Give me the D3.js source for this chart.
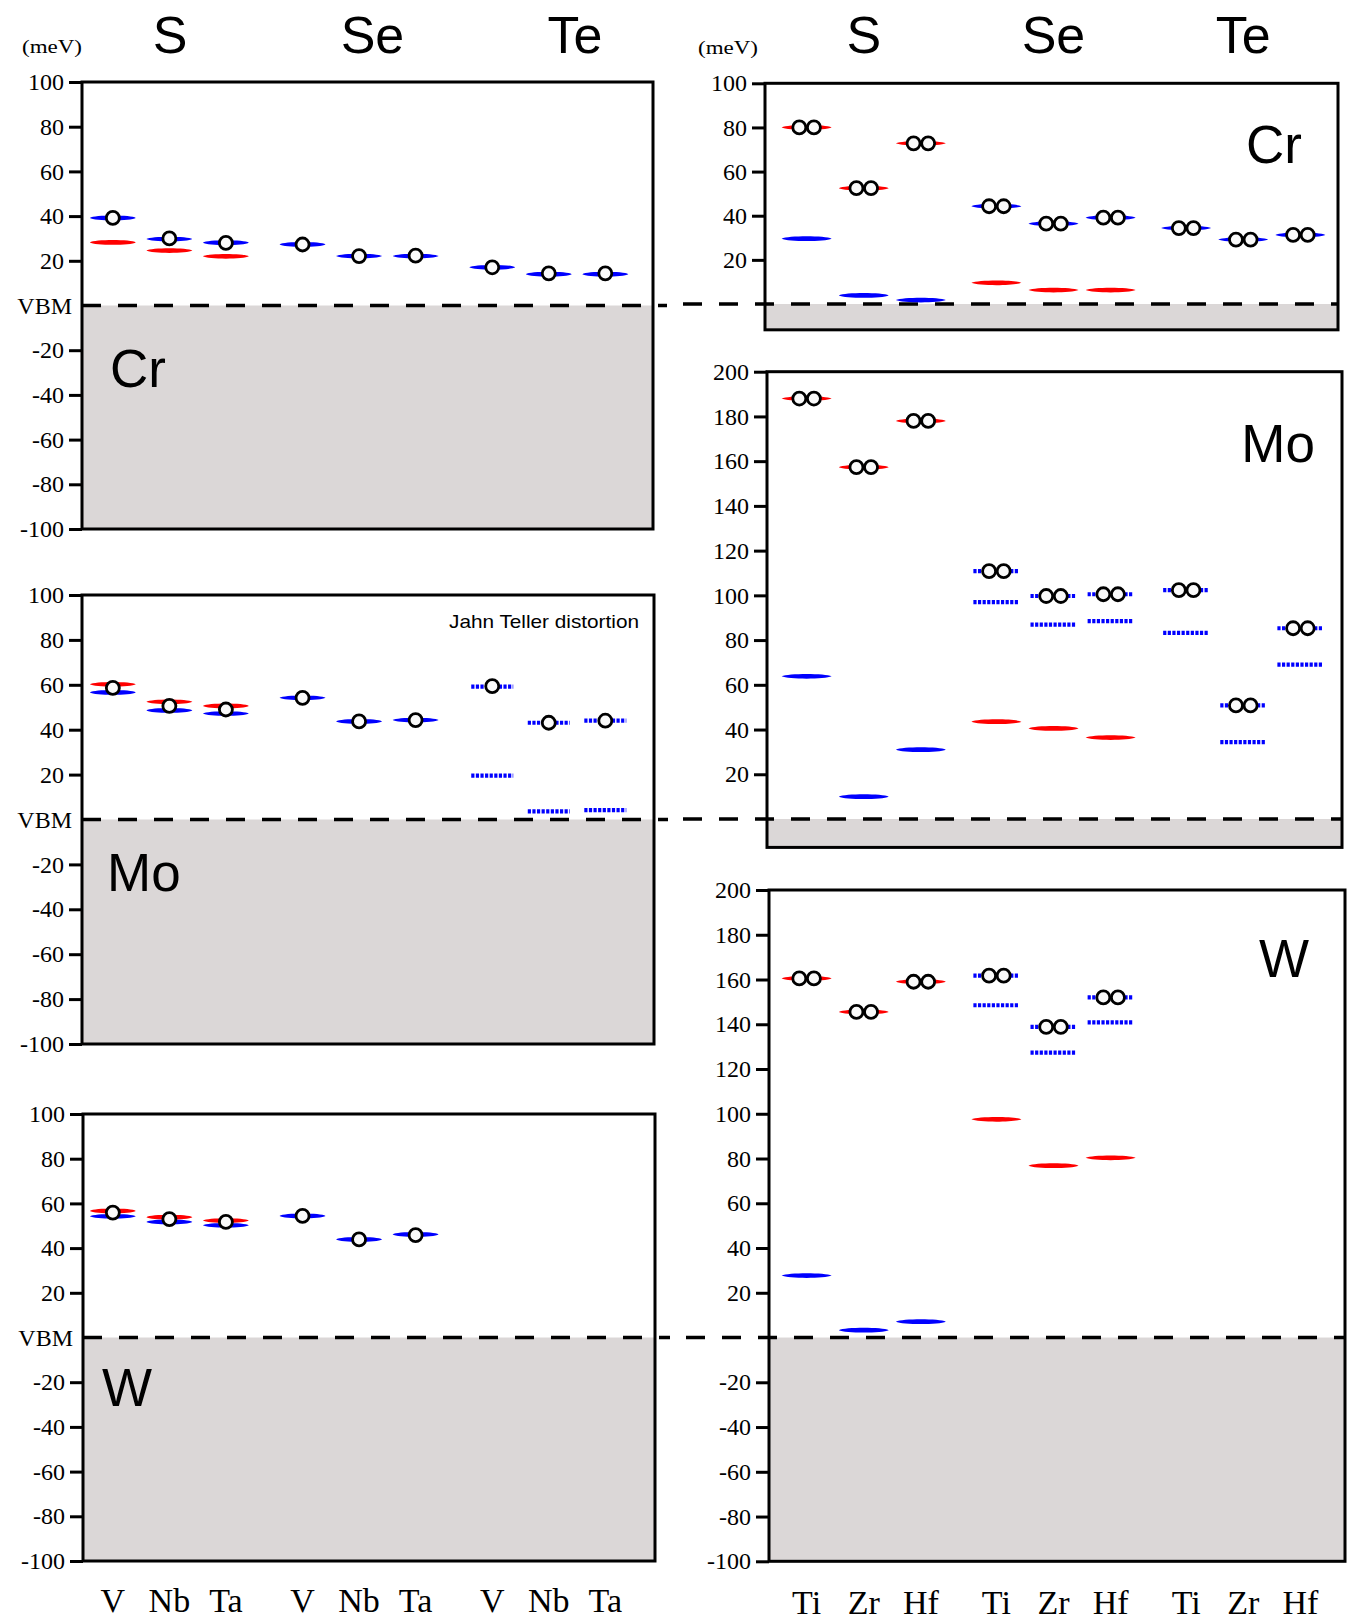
<!DOCTYPE html>
<html>
<head>
<meta charset="utf-8">
<script src="https://cdn.jsdelivr.net/npm/d3@7"></script>
<style>
  html, body { margin: 0; padding: 0; background: #ffffff; }
  svg { display: block; }
</style>
</head>
<body>
<svg id="chart" width="1348" height="1624"></svg>
<script>
// ---------------- DATA ----------------
const chalcogens = ["S", "Se", "Te"];
const leftMetals = ["V", "Nb", "Ta"];
const rightMetals = ["Ti", "Zr", "Hf"];

const leftTicks = [100, 80, 60, 40, 20, 0, -20, -40, -60, -80, -100];
const crRightTicks = [20, 40, 60, 80, 100];
const moRightTicks = [0, 20, 40, 60, 80, 100, 120, 140, 160, 180, 200];
const wRightTicks = [-100, -80, -60, -40, -20, 0, 20, 40, 60, 80, 100, 120, 140, 160, 180, 200];
const vbmLabel = "VBM";
const unitLabel = "(meV)";
const jtLabel = "Jahn Teller distortion";

// order: S-(V,Nb,Ta), Se-(V,Nb,Ta), Te-(V,Nb,Ta)
const crLeftRed      = [28.2, 24.6, 22.0, null, null, null, null, null, null];
const crLeftBlue     = [39.2, 29.7, 28.1, 27.3, 22.1, 22.1, 17.1, 14.0, 14.0];
const crLeftElectron = [39.2, 30.0, 28.0, 27.3, 22.1, 22.3, 17.1, 14.4, 14.4];

const moLeftRed      = [60.2, 52.4, 50.6, null, null, null, null, null, null];
const moLeftBlue     = [56.6, 48.6, 47.2, 54.2, 43.7, 44.3, null, null, null];
const moLeftJTUpper  = [null, null, null, null, null, null, 59.2, 43.1, 44.0];
const moLeftJTLower  = [null, null, null, null, null, null, 19.5, 3.6, 4.2];
const moLeftElectron = [58.6, 50.6, 49.0, 54.2, 43.7, 44.3, 59.4, 43.1, 44.0];

const wLeftRed       = [56.6, 53.8, 52.3, null, null, null, null, null, null];
const wLeftBlue      = [54.2, 51.7, 50.2, 54.4, 43.9, 46.1, null, null, null];
const wLeftElectron  = [55.9, 53.0, 51.7, 54.4, 43.9, 45.8, null, null, null];

// order: S-(Ti,Zr,Hf), Se-(Ti,Zr,Hf), Te-(Ti,Zr,Hf)
const crRightRed     = [80.0, 52.5, 72.8, 9.6, 6.3, 6.3, null, null, null];
const crRightBlue    = [29.6, 3.9, 1.8, 44.3, 36.4, 39.1, 34.4, 29.2, 31.3];
const crRightPair    = [80.0, 52.5, 72.8, 44.3, 36.4, 39.1, 34.4, 29.2, 31.3];

const moRightRed     = [188.0, 157.3, 178.0, 43.5, 40.5, 36.4, null, null, null];
const moRightBlue    = [63.8, 10.0, 31.0, null, null, null, null, null, null];
const moRightJTUpper = [null, null, null, 110.8, 99.7, 100.5, 102.3, 50.8, 85.3];
const moRightJTLower = [null, null, null, 97.0, 86.9, 88.5, 83.2, 34.4, 69.0];
const moRightPair    = [188.0, 157.3, 178.0, 110.8, 99.7, 100.5, 102.3, 50.8, 85.3];

const wRightRed      = [160.5, 145.5, 159.0, 97.5, 76.8, 80.3, null, null, null];
const wRightBlue     = [27.7, 3.3, 7.1, null, null, null, null, null, null];
const wRightJTUpper  = [null, null, null, 161.7, 138.8, 152.0, null, null, null];
const wRightJTLower  = [null, null, null, 148.5, 127.3, 140.8, null, null, null];
const wRightPair     = [160.5, 145.5, 159.0, 161.7, 138.8, 152.0, null, null, null];

// ---------------- LAYOUT ----------------
const SERIF = "'Liberation Serif', 'Times New Roman', serif";
const SANS = "'Liberation Sans', Arial, sans-serif";
const RED = "#ff0000";
const BLUE = "#0000ff";
const GRAY = "#dbd7d7";

const svg = d3.select("#chart");

const leftOuter = d3.scalePoint().domain(chalcogens).range([82, 653]).padding(0.505).align(0.456);
const leftInner = d3.scalePoint().domain(leftMetals).range([-0.298 * leftOuter.step(), 0.298 * leftOuter.step()]);
const rightOuter = d3.scalePoint().domain(chalcogens).range([766, 1341]).padding(0.515).align(0.5);
const rightInner = d3.scalePoint().domain(rightMetals).range([-0.301 * rightOuter.step(), 0.301 * rightOuter.step()]);
const leftHead = d3.scalePoint().domain(chalcogens).range([82, 653]).padding(0.41).align(0.53);

function xLeftAt(i) { return leftOuter(chalcogens[Math.floor(i / 3)]) + leftInner(leftMetals[i % 3]); }
function xRightAt(i) { return rightOuter(chalcogens[Math.floor(i / 3)]) + rightInner(rightMetals[i % 3]); }

// tapered level bar
function barPath(w, h, taper) {
  const a = w / 2, c = w * taper, k = h * 1.33;
  return `M${-a},0C${-a + c},${-k} ${a - c},${-k} ${a},0C${a - c},${k} ${-a + c},${k} ${-a},0Z`;
}

const panels = [
  { side: "left", x0: 82, x1: 653, yDomain: [-100, 100], yRange: [529, 82], frameMin: -100,
    ticks: leftTicks, name: "Cr", nameX: 110, nameY: 387, nameAnchor: "start",
    dashX0: 82, dashX1: 667, barW: 46, pairDx: 0,
    levels: [ { v: crLeftRed, c: RED }, { v: crLeftBlue, c: BLUE } ],
    electrons: crLeftElectron },
  { side: "left", x0: 82, x1: 654, yDomain: [-100, 100], yRange: [1044, 595], frameMin: -100,
    ticks: leftTicks, name: "Mo", nameX: 107, nameY: 891, nameAnchor: "start",
    dashX0: 82, dashX1: 668, barW: 46, pairDx: 0,
    levels: [ { v: moLeftRed, c: RED }, { v: moLeftBlue, c: BLUE },
              { v: moLeftJTUpper, c: BLUE, dotted: true }, { v: moLeftJTLower, c: BLUE, dotted: true } ],
    electrons: moLeftElectron },
  { side: "left", x0: 83, x1: 655, yDomain: [-100, 100], yRange: [1561, 1114], frameMin: -100,
    ticks: leftTicks, name: "W", nameX: 102, nameY: 1406, nameAnchor: "start",
    dashX0: 83, dashX1: 670, barW: 46, pairDx: 0,
    levels: [ { v: wLeftRed, c: RED }, { v: wLeftBlue, c: BLUE } ],
    electrons: wLeftElectron },
  { side: "right", x0: 765, x1: 1338, yDomain: [0, 100], yRange: [304, 83.3], frameMin: -11.7,
    ticks: crRightTicks, name: "Cr", nameX: 1302, nameY: 163, nameAnchor: "end",
    dashX0: 683, dashX1: 1338, barW: 50, pairDx: 7.3,
    levels: [ { v: crRightRed, c: RED }, { v: crRightBlue, c: BLUE } ],
    electrons: crRightPair },
  { side: "right", x0: 767, x1: 1342, yDomain: [0, 200], yRange: [819, 371.7], frameMin: -12.7,
    ticks: moRightTicks, name: "Mo", nameX: 1315, nameY: 462, nameAnchor: "end",
    dashX0: 683, dashX1: 1342, barW: 50, pairDx: 7.3,
    levels: [ { v: moRightRed, c: RED }, { v: moRightBlue, c: BLUE },
              { v: moRightJTUpper, c: BLUE, dotted: true }, { v: moRightJTLower, c: BLUE, dotted: true } ],
    electrons: moRightPair },
  { side: "right", x0: 769, x1: 1345, yDomain: [-100, 200], yRange: [1561.3, 890], frameMin: -100,
    ticks: wRightTicks, name: "W", nameX: 1309, nameY: 977, nameAnchor: "end",
    dashX0: 686, dashX1: 1345, barW: 50, pairDx: 7.3,
    levels: [ { v: wRightRed, c: RED }, { v: wRightBlue, c: BLUE },
              { v: wRightJTUpper, c: BLUE, dotted: true }, { v: wRightJTLower, c: BLUE, dotted: true } ],
    electrons: wRightPair }
];

function drawPanel(p) {
  const g = svg.append("g");
  const y = d3.scaleLinear().domain(p.yDomain).range(p.yRange);
  const xAt = p.side === "left" ? xLeftAt : xRightAt;
  const yTop = y(p.yDomain[1]);
  const yBot = y(p.frameMin);
  const y0 = y(0);

  // valence band region
  g.append("rect")
    .attr("x", p.x0).attr("y", y0)
    .attr("width", p.x1 - p.x0).attr("height", yBot - y0)
    .attr("fill", GRAY);

  // y axis
  const axis = d3.axisLeft(y).tickValues(p.ticks).tickSize(13).tickPadding(5)
    .tickFormat(d => d === 0 ? (p.side === "left" ? vbmLabel : "") : d);
  const ax = g.append("g").attr("transform", `translate(${p.x0},0)`).call(axis);
  ax.select(".domain").remove();
  ax.selectAll(".tick line").attr("stroke", "#000").attr("stroke-width", 3);
  ax.selectAll(".tick text")
    .attr("font-family", SERIF).attr("font-size", 24).attr("fill", "#000");
  const zeroTick = ax.selectAll(".tick").filter(d => d === 0);
  zeroTick.select("line").remove();
  zeroTick.select("text").attr("x", -10);

  // VBM dashed line
  g.append("line")
    .attr("x1", p.dashX0).attr("x2", p.dashX1)
    .attr("y1", y0).attr("y2", y0)
    .attr("stroke", "#000").attr("stroke-width", 3.5)
    .attr("stroke-dasharray", "19,17");

  // defect levels
  p.levels.forEach(s => {
    const pts = s.v.map((v, i) => ({ v, i })).filter(d => d.v !== null);
    if (s.dotted) {
      g.selectAll(null).data(pts).enter().append("line")
        .attr("x1", d => xAt(d.i) - p.barW / 2 + 2)
        .attr("x2", d => xAt(d.i) + p.barW / 2 - 2)
        .attr("y1", d => y(d.v)).attr("y2", d => y(d.v))
        .attr("stroke", s.c).attr("stroke-width", 4.2)
        .attr("stroke-dasharray", "3.2,1.4");
    } else {
      g.selectAll(null).data(pts).enter().append("path")
        .attr("d", barPath(p.barW, 2.4, p.side === "left" ? 0.1 : 0.13))
        .attr("transform", d => `translate(${xAt(d.i)},${y(d.v)})`)
        .attr("fill", s.c);
    }
  });

  // electrons
  const ePts = p.electrons.map((v, i) => ({ v, i })).filter(d => d.v !== null);
  const offsets = p.pairDx ? [-p.pairDx, p.pairDx] : [0];
  offsets.forEach(dx => {
    g.selectAll(null).data(ePts).enter().append("circle")
      .attr("cx", d => xAt(d.i) + dx)
      .attr("cy", d => y(d.v))
      .attr("r", 6.5)
      .attr("fill", "#fafafa")
      .attr("stroke", "#000")
      .attr("stroke-width", 2.8);
  });

  // frame
  g.append("rect")
    .attr("x", p.x0).attr("y", yTop)
    .attr("width", p.x1 - p.x0).attr("height", yBot - yTop)
    .attr("fill", "none").attr("stroke", "#000").attr("stroke-width", 3);

  // metal name label
  g.append("text")
    .attr("x", p.nameX).attr("y", p.nameY)
    .attr("text-anchor", p.nameAnchor)
    .attr("font-family", SANS).attr("font-size", 53).attr("fill", "#000")
    .text(p.name);
}

panels.forEach(drawPanel);

// Jahn Teller note
svg.append("text")
  .attr("x", 639).attr("y", 628)
  .attr("text-anchor", "end")
  .attr("font-family", SANS).attr("font-size", 19)
  .attr("textLength", 190).attr("lengthAdjust", "spacingAndGlyphs")
  .text(jtLabel);

// column headings
svg.selectAll(null).data(chalcogens).enter().append("text")
  .attr("x", d => leftHead(d)).attr("y", 53)
  .attr("text-anchor", "middle")
  .attr("font-family", SANS).attr("font-size", 52)
  .text(d => d);
svg.selectAll(null).data(chalcogens).enter().append("text")
  .attr("x", d => rightOuter(d)).attr("y", 53)
  .attr("text-anchor", "middle")
  .attr("font-family", SANS).attr("font-size", 52)
  .text(d => d);

// unit labels
[[22, 53], [698, 54]].forEach(([ux, uy]) => {
  svg.append("text")
    .attr("x", ux).attr("y", uy)
    .attr("font-family", SERIF).attr("font-size", 19)
    .attr("textLength", 60).attr("lengthAdjust", "spacingAndGlyphs")
    .text(unitLabel);
});

// bottom category labels
const leftLabels = chalcogens.flatMap(c => leftMetals.map(m => ({ c, m })));
svg.selectAll(null).data(leftLabels).enter().append("text")
  .attr("x", (d, i) => xLeftAt(i)).attr("y", 1612)
  .attr("text-anchor", "middle")
  .attr("font-family", SERIF).attr("font-size", 34)
  .text(d => d.m);
const rightLabels = chalcogens.flatMap(c => rightMetals.map(m => ({ c, m })));
svg.selectAll(null).data(rightLabels).enter().append("text")
  .attr("x", (d, i) => xRightAt(i)).attr("y", 1614)
  .attr("text-anchor", "middle")
  .attr("font-family", SERIF).attr("font-size", 34)
  .text(d => d.m);
</script>
</body>
</html>
